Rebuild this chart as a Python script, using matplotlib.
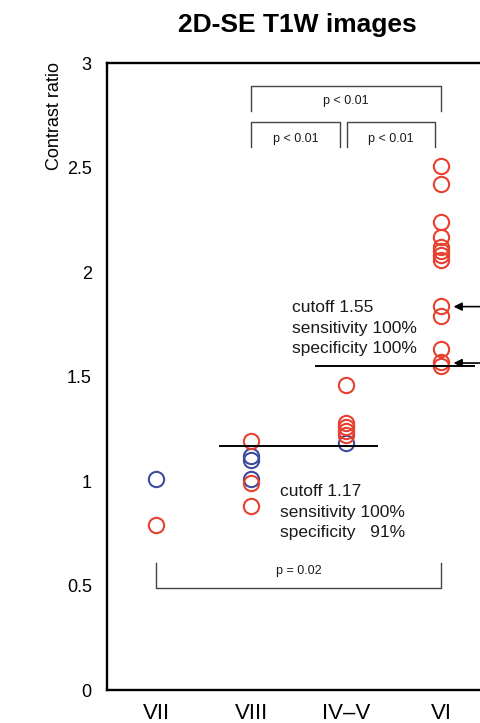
import matplotlib
matplotlib.use("Agg")
import matplotlib.pyplot as plt

plt.rcParams['font.family'] = ['Liberation Sans', 'DejaVu Sans']

groups = ["VII", "VIII", "IV\u2013V", "VI"]
red_vals = [
    [0.79],
    [1.19, 0.99, 0.88],
    [1.46, 1.28, 1.26, 1.24, 1.22],
    [2.51, 2.42, 2.24, 2.17, 2.12, 2.10, 2.08, 2.06, 1.84, 1.79, 1.63, 1.57, 1.55],
]
blue_vals = [
    [1.01],
    [1.12, 1.10, 1.01],
    [1.18],
    [],
]
cutoffs = [1.17, 1.55]
arrow_targets = [1.835, 1.565]

RED = "#e8402f"
BLUE = "#3d4b9c"

fig = plt.figure(figsize=(4.8, 7.23), dpi=100)
ax = fig.add_axes([0.223, 0.0456, 0.815, 0.867])

for i, (rv, bv) in enumerate(zip(red_vals, blue_vals)):
    x = i + 1
    ax.plot([x] * len(bv), bv, "o", ms=11, mfc="none", mec=BLUE, mew=1.5)
    ax.plot([x] * len(rv), rv, "o", ms=11, mfc="none", mec=RED, mew=1.5)

# cutoff lines
ax.plot([1.67, 3.32], [cutoffs[0]] * 2, color="black", lw=1.4)
ax.plot([2.68, 4.35], [cutoffs[1]] * 2, color="black", lw=1.4)

for yv in arrow_targets:
    ax.annotate("", xy=(4.13, yv), xytext=(4.6, yv),
                arrowprops=dict(arrowstyle="-|>", color="black", lw=1.2,
                                mutation_scale=12, shrinkA=0, shrinkB=0))

txt = dict(fontsize=12.5, color="#1a1a1a", va="center", ha="left", linespacing=1.45)
ax.text(2.43, 1.732, "cutoff 1.55\nsensitivity 100%\nspecificity 100%", **txt)
ax.text(2.30, 0.852, "cutoff 1.17\nsensitivity 100%\nspecificity   91%", **txt)


def bracket(x1, x2, y_bar, y_end, label, ty):
    ax.plot([x1, x1, x2, x2], [y_end, y_bar, y_bar, y_end], color="#444444", lw=1.0)
    ax.text((x1 + x2) / 2, ty, label, ha="center", va="center", fontsize=9, color="#1a1a1a")


bracket(2.0, 4.0, 2.89, 2.77, "p < 0.01", 2.82)
bracket(2.0, 2.94, 2.72, 2.60, "p < 0.01", 2.635)
bracket(3.01, 3.94, 2.72, 2.60, "p < 0.01", 2.635)
bracket(1.0, 4.0, 0.49, 0.61, "p = 0.02", 0.57)

ax.set_xlim(0.485, 4.6)
ax.set_ylim(0, 3)
ax.set_xticks(range(1, 5))
ax.set_xticklabels(groups, fontsize=16)
ax.set_yticks([0, 0.5, 1, 1.5, 2, 2.5, 3])
ax.set_yticklabels(["0", "0.5", "1", "1.5", "2", "2.5", "3"], fontsize=13)
ax.tick_params(length=0)
ax.tick_params(axis="y", pad=11)
ax.tick_params(axis="x", pad=9)
for s in ax.spines.values():
    s.set_linewidth(1.7)

ax.set_ylabel("Contrast ratio", fontsize=13)
ax.yaxis.set_label_coords(-0.113, 0.915)

fig.text(0.619, 0.965, "2D-SE T1W images", ha="center", va="center",
         fontsize=19, fontweight="bold")

fig.savefig("out.png", dpi=100)
